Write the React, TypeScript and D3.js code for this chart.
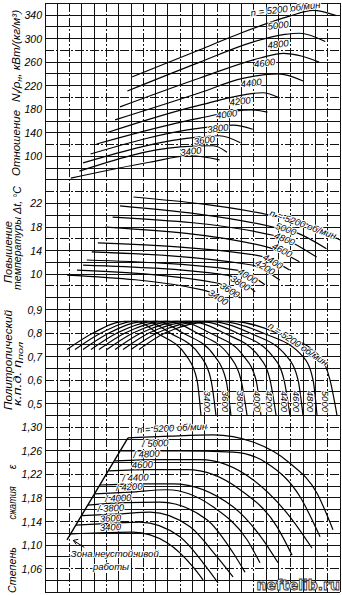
import React from "react";
import * as d3 from "d3";

type P = [number, number];

// Tick labels for each panel
const ticksPower = [340, 300, 260, 220, 180, 140, 100];
const ticksTemp = [22, 18, 14, 10];
const ticksEff = [0.9, 0.8, 0.7, 0.6, 0.5];
const ticksRatio = [1.3, 1.26, 1.22, 1.18, 1.14, 1.1, 1.06];

// Panel 1: N_i / rho_n, kW/(kg/m3) vs flow (grid cells)
const power3400: P[] = [[2.1, 63], [8.5, 90], [11.8, 101], [14.2, 94]];
const power3600: P[] = [[2.8, 75], [11.0, 116], [13.7, 118], [14.8, 107]];
const power3800: P[] = [[3.1, 89], [12.6, 133], [14.2, 135], [15.9, 123]];
const power4000: P[] = [[3.7, 104], [12.6, 148], [15.3, 153], [16.9, 146]];
const power4200: P[] = [[4.2, 121], [12.6, 165], [16.7, 179], [18.1, 175]];
const power4400: P[] = [[5.0, 140], [12.6, 187], [17.7, 208], [19.1, 199]];
const power4600: P[] = [[5.7, 162], [12.6, 208], [16.0, 232], [19.0, 240], [21.0, 228]];
const power4800: P[] = [[6.1, 184], [12.6, 233], [17.5, 267], [19.4, 275], [22.3, 260]];
const power5000: P[] = [[6.7, 211], [12.6, 260], [16.9, 294], [19.5, 307], [20.7, 309], [22.8, 295]];
const power5200: P[] = [[7.1, 235], [12.6, 281], [15.9, 309], [19.9, 338], [21.8, 348], [23.7, 339]];
const powerCurves = [power3400, power3600, power3800, power4000, power4200, power4400, power4600, power4800, power5000, power5200];
const powerLabelAt: P[] = [[11.9, 103], [13.0, 122], [14.1, 142], [14.8, 166], [15.9, 188], [16.8, 219], [17.9, 253], [19.0, 285], [19.0, 317], [19.6, 345]];
const powerLabelText = ["3400", "3600", "3800", "4000", "4200", "4400", "4600", "4800", "5000", "n = 5200 об/мин"];

// Panel 2: temperature rise Δt, °C
const temp3400: P[] = [[1.8, 9.85], [12.9, 7.3], [15.05, 5.3]];
const temp3600: P[] = [[2.6, 10.7], [14.0, 8.5], [15.9, 5.95]];
const temp3800: P[] = [[3.1, 11.55], [14.8, 9.85], [17.1, 7.0]];
const temp4000: P[] = [[3.4, 12.4], [15.6, 10.7], [17.9, 8.2]];
const temp4200: P[] = [[3.8, 13.8], [16.7, 11.6], [19.1, 9.0]];
const temp4400: P[] = [[4.3, 15.3], [17.25, 13.2], [19.9, 10.7]];
const temp4600: P[] = [[4.9, 18.0], [18.1, 14.6], [20.7, 12.1]];
const temp4800: P[] = [[5.5, 19.7], [18.55, 16.6], [22.1, 12.9]];
const temp5000: P[] = [[6.1, 21.6], [18.55, 18.0], [20.5, 17.0], [22.9, 14.3]];
const temp5200: P[] = [[7.2, 23.1], [18.3, 20.0], [21.6, 18.3], [24.0, 15.8]];
const tempCurves = [temp3400, temp3600, temp3800, temp4000, temp4200, temp4400, temp4600, temp4800, temp5000, temp5200];
const tempLabelAt: P[] = [[14.1, 6.1], [15.05, 7.3], [15.9, 8.5], [16.5, 9.7], [17.9, 11.2], [18.55, 12.2], [19.3, 14.1], [19.5, 16.0], [19.6, 17.7], [21.0, 18.5]];
const tempLabelAngle = [32, 32, 32, 32, 32, 30, 28, 22, 20, 20];
const tempLabelText = ["3400", "3600", "3800", "4000", "4200", "4400", "4600", "4800", "5000", "n = 5200 об/мин"];

// Panel 3: polytropic efficiency
const eff3400: P[] = [[1.79, 0.73], [3.91, 0.8], [6.51, 0.85], [7.49, 0.85], [9.11, 0.8], [11.55, 0.7], [12.37, 0.6], [12.69, 0.45]];
const eff3600: P[] = [[2.44, 0.73], [4.56, 0.8], [7.32, 0.85], [8.3, 0.85], [10.17, 0.8], [12.69, 0.7], [13.51, 0.6], [13.91, 0.45]];
const eff3800: P[] = [[3.09, 0.73], [5.21, 0.8], [8.14, 0.85], [9.11, 0.85], [11.23, 0.8], [13.83, 0.7], [14.73, 0.6], [15.13, 0.45]];
const eff4000: P[] = [[3.74, 0.73], [5.86, 0.8], [8.95, 0.85], [9.93, 0.85], [12.37, 0.8], [15.05, 0.7], [15.95, 0.6], [16.44, 0.45]];
const eff4200: P[] = [[4.39, 0.73], [6.51, 0.8], [9.76, 0.85], [10.82, 0.85], [13.43, 0.8], [16.19, 0.7], [17.17, 0.6], [17.57, 0.45]];
const eff4400: P[] = [[5.04, 0.73], [7.16, 0.8], [10.58, 0.85], [11.72, 0.85], [14.56, 0.8], [17.41, 0.7], [18.31, 0.6], [18.8, 0.45]];
const eff4600: P[] = [[5.7, 0.73], [7.81, 0.8], [11.39, 0.85], [12.61, 0.85], [15.62, 0.8], [18.55, 0.7], [19.45, 0.6], [19.93, 0.45]];
const eff4800: P[] = [[6.35, 0.73], [8.46, 0.8], [12.2, 0.85], [13.43, 0.85], [16.68, 0.8], [19.69, 0.7], [20.59, 0.6], [20.99, 0.45]];
const eff5000: P[] = [[7.0, 0.73], [9.11, 0.8], [13.02, 0.85], [14.24, 0.85], [17.74, 0.8], [20.99, 0.7], [21.81, 0.6], [22.13, 0.45]];
const eff5200: P[] = [[7.65, 0.73], [9.76, 0.8], [13.83, 0.85], [15.22, 0.85], [18.88, 0.8], [22.38, 0.7], [23.19, 0.6], [23.76, 0.45]];
const effCurves = [eff3400, eff3600, eff3800, eff4000, eff4200, eff4400, eff4600, eff4800, eff5000, eff5200];
const effLabelAt: P[] = [[13.2, 0.51], [14.7, 0.51], [15.9, 0.51], [17.3, 0.51], [18.3, 0.51], [19.5, 0.51], [20.5, 0.51], [21.6, 0.51], [22.8, 0.51]];
const effLabelText = ["3400", "3600", "3800", "4000", "4200", "4400", "4600", "4800", "5000"];
const effTopLabelAt: P = [20.6, 0.754];

// Panel 4: pressure ratio ε
const ratio3400: P[] = [[2.12, 1.119], [4.48, 1.121], [7.16, 1.122], [9.93, 1.104], [12.04, 1.063], [12.86, 1.041]];
const ratio3600: P[] = [[2.52, 1.134], [5.29, 1.137], [7.73, 1.139], [10.98, 1.114], [12.86, 1.07], [14.08, 1.036]];
const ratio3800: P[] = [[3.01, 1.15], [6.1, 1.153], [8.54, 1.156], [11.8, 1.131], [14.0, 1.08], [15.3, 1.046]];
const ratio4000: P[] = [[3.5, 1.168], [6.51, 1.172], [9.36, 1.173], [13.18, 1.143], [15.3, 1.087], [16.27, 1.054]];
const ratio4200: P[] = [[4.07, 1.187], [6.92, 1.19], [9.93, 1.194], [13.67, 1.165], [16.44, 1.109], [17.49, 1.07]];
const ratio4400: P[] = [[4.48, 1.202], [7.73, 1.204], [10.41, 1.204], [15.3, 1.165], [17.74, 1.109], [18.96, 1.07]];
const ratio4600: P[] = [[5.21, 1.226], [8.54, 1.228], [11.55, 1.228], [15.87, 1.194], [18.88, 1.131], [20.1, 1.083]];
const ratio4800: P[] = [[5.7, 1.243], [9.36, 1.245], [12.61, 1.245], [16.92, 1.211], [19.93, 1.148], [21.72, 1.095]];
const ratio5000: P[] = [[6.18, 1.26], [10.98, 1.26], [15.3, 1.258], [18.06, 1.239], [20.75, 1.182], [22.38, 1.114]];
const ratio5200: P[] = [[6.75, 1.282], [10.17, 1.285], [13.67, 1.287], [16.92, 1.275], [19.93, 1.239], [22.13, 1.188], [23.43, 1.126]];
const ratioCurves = [ratio3400, ratio3600, ratio3800, ratio4000, ratio4200, ratio4400, ratio4600, ratio4800, ratio5000, ratio5200];
const surgeLine: P[] = [[1.79, 1.109], [6.75, 1.282]];
const ratioLabelAt: P[] = [[4.48, 1.124], [4.48, 1.139], [4.3, 1.156], [4.9, 1.173], [5.8, 1.192], [6.3, 1.208], [7.08, 1.23], [7.2, 1.248], [7.9, 1.266], [7.5, 1.29]];
const ratioLabelText = ["3400", "3600", "/ 3800", "/ 4000", "/ 4200", "/ 4400", "4600", "/ 4800", "/ 5000", "n = 5200 об/мин"];
const zoneArrow: P[] = [[3.2, 1.096], [2.3, 1.108]];
const zoneTextAt: P[] = [[2.1, 1.079], [3.9, 1.058]];

const X_LEFT = 45;
const X_RIGHT = 340;
const ROW0 = 15;
const CELL = 11.78;
const rowY = (r: number) => ROW0 + r * CELL;

export default function App() {
  const x = d3.scaleLinear().domain([0, 24]).range([X_LEFT, X_RIGHT]);
  const y1 = d3.scaleLinear().domain([340, 100]).range([rowY(0), rowY(12)]);
  const y2 = d3.scaleLinear().domain([22, 10]).range([rowY(16), rowY(22)]);
  const y3 = d3.scaleLinear().domain([0.9, 0.5]).range([rowY(25), rowY(33)]);
  const y4 = d3.scaleLinear().domain([1.3, 1.06]).range([rowY(35), rowY(47)]);

  const mk = (ys: d3.ScaleLinear<number, number>) =>
    d3.line<P>().x((d) => x(d[0])).y((d) => ys(d[1])).curve(d3.curveMonotoneX);
  const l1 = mk(y1), l2 = mk(y2), l3 = mk(y3), l4 = mk(y4);
  const straight4 = d3.line<P>().x((d) => x(d[0])).y((d) => y4(d[1]));

  const cols = d3.range(0, 25);
  const rows = d3.range(-1, 50);
  const fmt = (v: number, digits: number) => v.toFixed(digits).replace(".", ",");

  const font = "'Liberation Sans', 'DejaVu Sans', sans-serif";
  const tickStyle: React.CSSProperties = { fontFamily: font, fontStyle: "italic", fontSize: 10.5 };
  const lblStyle: React.CSSProperties = {
    fontFamily: font, fontStyle: "italic", fontSize: 9.5,
    paintOrder: "stroke", stroke: "#fff", strokeWidth: 2, strokeLinejoin: "round",
  } as React.CSSProperties;

  const curveStroke = { fill: "none", stroke: "#000", strokeWidth: 1.2 };

  return (
    <svg width={342} height={595} style={{ position: "absolute", left: 0, top: 0, background: "#fff" }}>
      <rect x={0} y={0} width={342} height={595} fill="#fff" />
      {/* grid */}
      <g stroke="#111" strokeWidth={1} shapeRendering="crispEdges">
        {cols.map((c) => (
          <line key={"v" + c} x1={x(c)} x2={x(c)} y1={rowY(-1)} y2={rowY(49)} strokeDasharray={c % 3 === 2 ? "9 2 2 2" : undefined} />
        ))}
        {rows.map((r) => (
          <line key={"h" + r} x1={X_LEFT} x2={X_RIGHT} y1={rowY(r)} y2={rowY(r)} strokeDasharray={r % 4 === 3 ? "9 2 2 2" : undefined} />
        ))}
      </g>

      {/* tick labels */}
      <g style={tickStyle} textAnchor="end" dominantBaseline="central">
        {ticksPower.map((t) => (
          <text key={"p" + t} x={42} y={y1(t)}>{t}</text>
        ))}
        {ticksTemp.map((t) => (
          <text key={"t" + t} x={42} y={y2(t)}>{t}</text>
        ))}
        {ticksEff.map((t) => (
          <text key={"e" + t} x={42} y={y3(t)}>{fmt(t, 1)}</text>
        ))}
        {ticksRatio.map((t) => (
          <text key={"r" + t} x={42} y={y4(t)}>{fmt(t, 2)}</text>
        ))}
      </g>

      {/* axis titles */}
      <g style={{ fontFamily: font, fontStyle: "italic", fontSize: 10.5 }} textAnchor="middle">
        <text transform={`translate(20,143) rotate(-90)`} textLength={66} lengthAdjust="spacingAndGlyphs">Отношение</text>
        <text transform={`translate(20,56) rotate(-90)`} textLength={92} lengthAdjust="spacingAndGlyphs">
          N<tspan fontSize={8} dy={2}>i</tspan><tspan dy={-2}>/ρ</tspan><tspan fontSize={8} dy={2}>н</tspan><tspan dy={-2}>, кВт/(кг/м³)</tspan>
        </text>
        <text transform={`translate(12,252) rotate(-90)`} textLength={62} lengthAdjust="spacingAndGlyphs">Повышение</text>
        <text transform={`translate(21,238) rotate(-90)`} textLength={104} lengthAdjust="spacingAndGlyphs">температуры Δt, °C</text>
        <text transform={`translate(12,360) rotate(-90)`} textLength={100} lengthAdjust="spacingAndGlyphs">Политропический</text>
        <text transform={`translate(21,374) rotate(-90)`} textLength={64} lengthAdjust="spacingAndGlyphs">
          к.п.д. η<tspan fontSize={8} dy={2}>пол</tspan>
        </text>
        <text transform={`translate(16,570) rotate(-90)`} textLength={46} lengthAdjust="spacingAndGlyphs">Степень</text>
        <text transform={`translate(16,503) rotate(-90)`} textLength={33} lengthAdjust="spacingAndGlyphs">сжатия</text>
        <text transform={`translate(16,467) rotate(-90)`}>ε</text>
      </g>

      {/* panel 1 */}
      <g>
        {powerCurves.map((c, i) => (
          <path key={"pc" + i} d={l1(c) || ""} {...curveStroke} />
        ))}
        {powerLabelAt.map((p, i) => (
          <text key={"pl" + i} style={lblStyle} textAnchor="middle" dominantBaseline="auto"
            transform={`translate(${x(p[0])},${y1(p[1])}) rotate(-7)`}>
            {powerLabelText[i]}
          </text>
        ))}
      </g>

      {/* panel 2 */}
      <g>
        {tempCurves.map((c, i) => (
          <path key={"tc" + i} d={l2(c) || ""} {...curveStroke} />
        ))}
        {tempLabelAt.map((p, i) => (
          <text key={"tl" + i} style={lblStyle} textAnchor="middle" dominantBaseline="central"
            transform={`translate(${x(p[0])},${y2(p[1])}) rotate(${tempLabelAngle[i]})`}>
            {tempLabelText[i]}
          </text>
        ))}
      </g>

      {/* panel 3 */}
      <g>
        {effCurves.map((c, i) => (
          <path key={"ec" + i} d={l3(c) || ""} {...curveStroke} />
        ))}
        {effLabelAt.map((p, i) => (
          <text key={"el" + i} style={lblStyle} textAnchor="middle" dominantBaseline="central"
            transform={`translate(${x(p[0])},${y3(p[1])}) rotate(90)`}>
            {effLabelText[i]}
          </text>
        ))}
        <text style={lblStyle} textAnchor="middle" dominantBaseline="central"
          transform={`translate(${x(effTopLabelAt[0])},${y3(effTopLabelAt[1])}) rotate(34)`}>
          n = 5200 об/мин
        </text>
      </g>

      {/* panel 4 */}
      <g>
        {ratioCurves.map((c, i) => (
          <path key={"rc" + i} d={l4(c) || ""} {...curveStroke} />
        ))}
        <path d={straight4(surgeLine) || ""} fill="none" stroke="#000" strokeWidth={1.4} />
        {ratioLabelAt.map((p, i) => (
          <text key={"rl" + i} style={lblStyle} textAnchor="start"
            transform={`translate(${x(p[0])},${y4(p[1])}) rotate(-3)`}>
            {ratioLabelText[i]}
          </text>
        ))}
        <path d={straight4(zoneArrow) || ""} fill="none" stroke="#000" strokeWidth={1} />
        <path
          d={`M${x(zoneArrow[1][0]) + 5},${y4(zoneArrow[1][1]) - 1} L${x(zoneArrow[1][0])},${y4(zoneArrow[1][1])} L${x(zoneArrow[1][0]) + 3},${y4(zoneArrow[1][1]) + 4}`}
          fill="none" stroke="#000" strokeWidth={1} />
        <text style={lblStyle} x={x(zoneTextAt[0][0])} y={y4(zoneTextAt[0][1])}>Зона  неустойчивой</text>
        <text style={lblStyle} x={x(zoneTextAt[1][0])} y={y4(zoneTextAt[1][1])}>работы</text>
      </g>

      {/* watermark */}
      <text x={340} y={590} textAnchor="end"
        style={{ fontFamily: "'DejaVu Sans', sans-serif", fontWeight: "bold", fontSize: 14 }}
        fill="#fff" stroke="#333" strokeWidth={0.9}>
        neftelib.ru
      </text>
    </svg>
  );
}
